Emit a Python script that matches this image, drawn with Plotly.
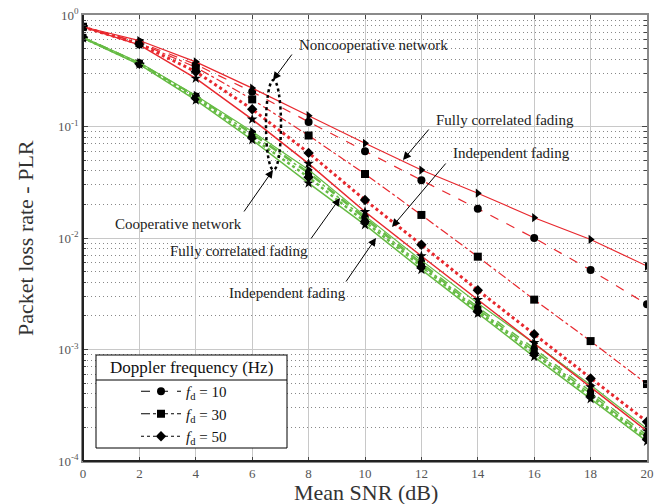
import plotly.graph_objects as go

# ---------------- data ----------------
snr_db = [0, 2, 4, 6, 8, 10, 12, 14, 16, 18, 20]

# Noncooperative network (red)
nc_ref_solid = [0.785, 0.59, 0.38, 0.221, 0.125, 0.0707, 0.0407, 0.0252, 0.0152, 0.0097, 0.0056]
nc_fc_fd10 = [0.78, 0.57, 0.36, 0.205, 0.110, 0.060, 0.033, 0.0183, 0.0100, 0.00516, 0.00254]
nc_fc_fd30 = [0.785, 0.56, 0.34, 0.175, 0.083, 0.0375, 0.0161, 0.0068, 0.0028, 0.00119, 0.00049]
nc_fc_fd50 = [0.78, 0.55, 0.31, 0.143, 0.058, 0.0219, 0.0087, 0.0034, 0.00137, 0.00055, 0.000225]
nc_indep = [0.78, 0.54, 0.27, 0.116, 0.0465, 0.0172, 0.0069, 0.0028, 0.00115, 0.00046, 0.000185]

# Cooperative network (green)
co_ref_solid = [0.63, 0.375, 0.19, 0.090, 0.041, 0.0158, 0.0063, 0.0026, 0.00113, 0.00048, 0.000195]
co_fc_fd10 = [0.63, 0.372, 0.188, 0.087, 0.039, 0.0152, 0.0060, 0.0024, 0.00102, 0.00042, 0.000170]
co_fc_fd30 = [0.63, 0.370, 0.186, 0.085, 0.038, 0.0148, 0.0058, 0.0023, 0.00097, 0.00040, 0.000162]
co_fc_fd50 = [0.625, 0.365, 0.180, 0.080, 0.035, 0.0140, 0.0055, 0.0022, 0.00092, 0.00038, 0.000157]
co_indep = [0.62, 0.36, 0.172, 0.0757, 0.031, 0.0131, 0.0052, 0.0021, 0.00086, 0.00036, 0.000150]

x_ticks = [0, 2, 4, 6, 8, 10, 12, 14, 16, 18, 20]
y_ticks = [1e-4, 1e-3, 1e-2, 1e-1, 1]
y_ticktext = ["10<sup>-4</sup>", "10<sup>-3</sup>", "10<sup>-2</sup>", "10<sup>-1</sup>", "10<sup>0</sup>"]
legend_title = "Doppler frequency (Hz)"
legend_labels = ["<i>f</i><sub>d</sub> = 10", "<i>f</i><sub>d</sub> = 30", "<i>f</i><sub>d</sub> = 50"]

RED = "#e8282e"
GREEN = "#66bb44"
SERIF = "Liberation Serif"

fig = go.Figure()

def add(y, color, dash, width, symbol, size=8):
    fig.add_trace(go.Scatter(
        x=snr_db, y=y, mode="lines+markers", showlegend=False,
        line=dict(color=color, dash=dash, width=width),
        marker=dict(symbol=symbol, color="black", size=size),
        hoverinfo="skip"))

# green (cooperative)
add(co_indep, GREEN, "solid", 1.5, "star", 8)
add(co_fc_fd50, GREEN, "dot", 2.5, "diamond", 8)
add(co_fc_fd30, GREEN, "dashdot", 1.5, "square", 7)
add(co_fc_fd10, GREEN, "dash", 1.5, "circle", 7)
add(co_ref_solid, GREEN, "solid", 1.2, "triangle-right", 8)
# red (noncooperative)
add(nc_indep, RED, "solid", 1.5, "star", 8)
add(nc_fc_fd50, RED, "dot", 3, "diamond", 8)
add(nc_fc_fd30, RED, "dashdot", 1.2, "square", 8)
add(nc_fc_fd10, RED, "dash", 1.2, "circle", 8)
add(nc_ref_solid, RED, "solid", 1.2, "triangle-right", 8)

# legend entries (black samples)
for lab, dash, sym in zip(legend_labels, ["dash", "dashdot", "dot"], ["circle", "square", "diamond"]):
    fig.add_trace(go.Scatter(
        x=[None], y=[None], mode="lines+markers", name=lab,
        line=dict(color="black", dash=dash, width=1),
        marker=dict(symbol=sym, color="black", size=8)))

W, H = 654, 504
L, R, T, B = 83, 647, 15, 461

def px(xp):
    return (xp - L) / (R - L)

def py(yp):
    return (B - yp) / (B - T)

annos = []
def arrow(tail, head):
    annos.append(dict(
        x=px(head[0]), y=py(head[1]), xref="paper", yref="paper",
        ax=tail[0] - head[0], ay=tail[1] - head[1], axref="pixel", ayref="pixel",
        text="", showarrow=True, arrowhead=2, arrowsize=1.6, arrowwidth=1,
        arrowcolor="black"))

def label(text, center, size=15, angle=0, color="#222"):
    annos.append(dict(
        x=px(center[0]), y=py(center[1]), xref="paper", yref="paper",
        text=text, showarrow=False, xanchor="center", yanchor="middle",
        textangle=angle, font=dict(family=SERIF, size=size, color=color)))

label("Noncooperative network", (373, 45))
arrow((293, 53), (273, 80))
label("Cooperative network", (178, 224))
arrow((243, 213), (273, 170))
label("Fully correlated fading", (239, 251))
arrow((310, 240), (340, 198))
label("Independent fading", (287, 293))
arrow((345, 283), (376, 238))
label("Fully correlated fading", (505, 120))
arrow((430, 128), (403, 160))
label("Independent fading", (511, 153))
arrow((447, 162), (392, 227))

# axis titles
label("Mean SNR (dB)", (366, 492), size=22, color="#333")
label("Packet loss rate - PLR", (25, 238), size=22, angle=-90, color="#333")

# legend (box, title and separator)
LX0, LX1, LY0, LY1, LSEP = 96, 287, 355, 448, 380
label(legend_title, ((LX0 + LX1) / 2, 367), size=17, color="#111")

shapes = [
    dict(type="circle", xref="paper", yref="paper",
         x0=px(266), x1=px(281), y0=py(170), y1=py(80),
         line=dict(color="black", width=2.5, dash="dot")),
    dict(type="rect", xref="paper", yref="paper",
         x0=px(LX0), x1=px(LX1), y0=py(LY1), y1=py(LY0),
         line=dict(color="black", width=1), fillcolor="white", layer="above"),
    dict(type="line", xref="paper", yref="paper",
         x0=px(LX0), x1=px(LX1), y0=py(LSEP), y1=py(LSEP),
         line=dict(color="black", width=1)),
    # darker left and bottom frame edges
    dict(type="line", xref="paper", yref="paper", x0=0, x1=0, y0=0, y1=1,
         line=dict(color="#222", width=2), layer="above"),
    dict(type="line", xref="paper", yref="paper", x0=0, x1=1, y0=0, y1=0,
         line=dict(color="#222", width=2), layer="above"),
]

minor_y = [k * 10 ** e for e in range(-4, 0) for k in range(2, 10)]

fig.update_layout(
    width=W, height=H,
    margin=dict(l=L, r=W - R, t=T, b=H - B, autoexpand=False),
    paper_bgcolor="white", plot_bgcolor="white",
    font=dict(family=SERIF, color="#333"),
    annotations=annos, shapes=shapes,
    legend=dict(
        x=px(136), y=py(375), xanchor="left", yanchor="top",
        bgcolor="rgba(0,0,0,0)", borderwidth=0,
        font=dict(family=SERIF, size=15, color="#111"),
        itemwidth=40, tracegroupgap=0),
)

fig.update_xaxes(
    range=[0, 20], tickvals=x_ticks, ticks="inside", ticklen=4, automargin=False,
    showline=True, linecolor="#8a8a8a", linewidth=1.5, mirror="allticks",
    showgrid=True, gridcolor="#c8c8c8", gridwidth=1.3, zeroline=False,
    tickfont=dict(family=SERIF, size=13, color="#555"),
)
fig.update_yaxes(
    type="log", range=[-4, 0], tickvals=y_ticks, ticktext=y_ticktext,
    ticks="inside", ticklen=5, automargin=False,
    showline=True, linecolor="#8a8a8a", linewidth=1.5, mirror="allticks",
    showgrid=True, gridcolor="#c8c8c8", gridwidth=1.3, zeroline=False,
    tickfont=dict(family=SERIF, size=13, color="#555"),
    minor=dict(tickvals=minor_y, ticks="inside", ticklen=3, showgrid=True,
               griddash="1px,3px", gridcolor="#888", gridwidth=1),
)

fig.write_html("out.html", config={"displayModeBar": False},
               post_script="document.body.style.margin='0';")
